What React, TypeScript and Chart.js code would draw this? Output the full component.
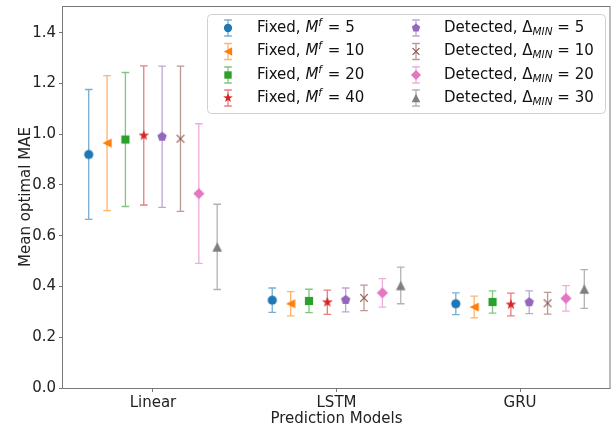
import React, { useEffect, useRef } from 'react';
import { Chart, registerables } from 'chart.js';
Chart.register(...registerables);

const categories = ['Linear', 'LSTM', 'GRU'];
const seriesOffsets = [-0.35, -0.25, -0.15, -0.05, 0.05, 0.15, 0.25, 0.35];
const yTicks = [0, 0.2, 0.4, 0.6, 0.8, 1.0, 1.2, 1.4];

const fixed5Mean = [0.92, 0.346, 0.332];
const fixed5Err = [0.256, 0.048, 0.043];
const fixed10Mean = [0.965, 0.332, 0.319];
const fixed10Err = [0.266, 0.048, 0.043];
const fixed20Mean = [0.979, 0.343, 0.339];
const fixed20Err = [0.264, 0.046, 0.044];
const fixed40Mean = [0.995, 0.338, 0.329];
const fixed40Err = [0.274, 0.048, 0.045];
const detected5Mean = [0.99, 0.347, 0.338];
const detected5Err = [0.278, 0.047, 0.045];
const detected10Mean = [0.982, 0.355, 0.334];
const detected10Err = [0.286, 0.05, 0.043];
const detected20Mean = [0.766, 0.375, 0.353];
const detected20Err = [0.275, 0.056, 0.05];
const detected30Mean = [0.556, 0.404, 0.39];
const detected30Err = [0.168, 0.072, 0.076];

const fixedParams = [5, 10, 20, 40];
const detectedParams = [5, 10, 20, 30];

const seriesMeans = [fixed5Mean, fixed10Mean, fixed20Mean, fixed40Mean, detected5Mean, detected10Mean, detected20Mean, detected30Mean];
const seriesErrs = [fixed5Err, fixed10Err, fixed20Err, fixed40Err, detected5Err, detected10Err, detected20Err, detected30Err];
const seriesColors = ['#1f77b4', '#ff7f0e', '#2ca02c', '#d62728', '#9467bd', '#8c564b', '#e377c2', '#7f7f7f'];
const seriesMarkers = ['circle', 'triLeft', 'square', 'star', 'pentagon', 'x', 'diamond', 'triUp'];

const FONT = '"DejaVu Sans", sans-serif';
const FS = 15;

function hexAlpha(hex: string, a: number) {
  const r = parseInt(hex.slice(1, 3), 16);
  const g = parseInt(hex.slice(3, 5), 16);
  const b = parseInt(hex.slice(5, 7), 16);
  return `rgba(${r},${g},${b},${a})`;
}

function drawMarker(ctx: CanvasRenderingContext2D, shape: string, color: string, cx: number, cy: number, s = 1) {
  ctx.save();
  ctx.fillStyle = color;
  ctx.strokeStyle = color;
  ctx.beginPath();
  if (shape === 'circle') {
    ctx.arc(cx, cy, 4.6 * s, 0, Math.PI * 2);
    ctx.fill();
  } else if (shape === 'triLeft') {
    const r = 4.6 * s;
    ctx.moveTo(cx - r, cy);
    ctx.lineTo(cx + r, cy - r);
    ctx.lineTo(cx + r, cy + r);
    ctx.closePath();
    ctx.fill();
  } else if (shape === 'square') {
    const r = 4.1 * s;
    ctx.rect(cx - r, cy - r, 2 * r, 2 * r);
    ctx.fill();
  } else if (shape === 'star') {
    const ro = 5.6 * s, ri = ro * 0.4;
    for (let k = 0; k < 10; k++) {
      const ang = -Math.PI / 2 + (k * Math.PI) / 5;
      const rr = k % 2 === 0 ? ro : ri;
      const px = cx + rr * Math.cos(ang), py = cy + rr * Math.sin(ang);
      if (k === 0) ctx.moveTo(px, py); else ctx.lineTo(px, py);
    }
    ctx.closePath();
    ctx.fill();
  } else if (shape === 'pentagon') {
    const r = 4.9 * s;
    for (let k = 0; k < 5; k++) {
      const ang = -Math.PI / 2 + (k * 2 * Math.PI) / 5;
      const px = cx + r * Math.cos(ang), py = cy + r * Math.sin(ang);
      if (k === 0) ctx.moveTo(px, py); else ctx.lineTo(px, py);
    }
    ctx.closePath();
    ctx.fill();
  } else if (shape === 'x') {
    const r = 3.8 * s;
    ctx.lineWidth = 1.2;
    ctx.moveTo(cx - r, cy - r);
    ctx.lineTo(cx + r, cy + r);
    ctx.moveTo(cx - r, cy + r);
    ctx.lineTo(cx + r, cy - r);
    ctx.stroke();
  } else if (shape === 'diamond') {
    const r = 5.6 * s;
    ctx.moveTo(cx, cy - r);
    ctx.lineTo(cx + r, cy);
    ctx.lineTo(cx, cy + r);
    ctx.lineTo(cx - r, cy);
    ctx.closePath();
    ctx.fill();
  } else if (shape === 'triUp') {
    const r = 4.8 * s;
    ctx.moveTo(cx, cy - r);
    ctx.lineTo(cx - r, cy + r);
    ctx.lineTo(cx + r, cy + r);
    ctx.closePath();
    ctx.fill();
  }
  ctx.restore();
}

function markerCanvas(shape: string, color: string) {
  const c = document.createElement('canvas');
  c.width = 16;
  c.height = 16;
  const ctx = c.getContext('2d')!;
  drawMarker(ctx, shape, color, 8, 8);
  return c;
}

function drawErrorBar(ctx: CanvasRenderingContext2D, color: string, px: number, top: number, bot: number, cap: number) {
  ctx.save();
  ctx.strokeStyle = hexAlpha(color, 0.6);
  ctx.lineWidth = 1.3;
  ctx.beginPath();
  ctx.moveTo(px, top);
  ctx.lineTo(px, bot);
  ctx.moveTo(px - cap, top);
  ctx.lineTo(px + cap, top);
  ctx.moveTo(px - cap, bot);
  ctx.lineTo(px + cap, bot);
  ctx.stroke();
  ctx.restore();
}

const errorBarPlugin = {
  id: 'errorBars',
  beforeDatasetsDraw(chart: any) {
    const { ctx } = chart;
    const xs = chart.scales.x, ys = chart.scales.y;
    chart.data.datasets.forEach((ds: any, di: number) => {
      ds.data.forEach((p: any, i: number) => {
        const px = xs.getPixelForValue(p.x);
        const top = ys.getPixelForValue(p.y + seriesErrs[di][i]);
        const bot = ys.getPixelForValue(p.y - seriesErrs[di][i]);
        drawErrorBar(ctx, seriesColors[di], px, top, bot, 3.8);
      });
    });
  },
};

const framePlugin = {
  id: 'frame',
  afterDatasetsDraw(chart: any) {
    const { ctx, chartArea: a } = chart;
    ctx.save();
    ctx.strokeStyle = '#777';
    ctx.lineWidth = 1;
    ctx.strokeRect(Math.round(a.left) - 0.5, Math.round(a.top) + 0.5, Math.round(a.right - a.left) + 0.5, Math.round(a.bottom - a.top));
    ctx.restore();
  },
};

function drawRichLabel(ctx: CanvasRenderingContext2D, x: number, y: number, di: number) {
  const main = `${FS}px ${FONT}`;
  const ital = `italic ${FS}px ${FONT}`;
  const small = `italic 10.5px ${FONT}`;
  ctx.textBaseline = 'middle';
  ctx.fillStyle = '#111';
  let cx = x;
  const seg = (t: string, f: string, dy = 0) => {
    ctx.font = f;
    ctx.fillText(t, cx, y + dy);
    cx += ctx.measureText(t).width;
  };
  if (di < 4) {
    seg('Fixed, ', main);
    seg('M', ital);
    seg('f', small, -5);
    cx += 1;
    seg(` = ${fixedParams[di]}`, main);
  } else {
    seg('Detected, Δ', main);
    seg('MIN', small, 4);
    seg(` = ${detectedParams[di - 4]}`, main);
  }
}

const legendPlugin = {
  id: 'customLegend',
  afterDraw(chart: any) {
    const { ctx } = chart;
    const bx = 207, by = 14, bw = 398, bh = 99;
    ctx.save();
    ctx.beginPath();
    if ((ctx as any).roundRect) (ctx as any).roundRect(bx + 0.5, by + 0.5, bw, bh, 4);
    else ctx.rect(bx + 0.5, by + 0.5, bw, bh);
    ctx.fillStyle = 'rgba(255,255,255,0.8)';
    ctx.fill();
    ctx.strokeStyle = '#d0d0d0';
    ctx.lineWidth = 1;
    ctx.stroke();
    const rowY = [28, 51.5, 75, 98];
    const colMarkerX = [228, 416];
    const colTextX = [257, 444];
    for (let di = 0; di < 8; di++) {
      const col = di < 4 ? 0 : 1;
      const row = di % 4;
      const mx = colMarkerX[col], my = rowY[row];
      drawErrorBar(ctx, seriesColors[di], mx, my - 8, my + 8, 3.8);
      drawMarker(ctx, seriesMarkers[di], seriesColors[di], mx, my, 0.9);
      drawRichLabel(ctx, colTextX[col], my, di);
    }
    ctx.restore();
  },
};

export default function App() {
  const ref = useRef<HTMLCanvasElement>(null);
  useEffect(() => {
    const datasets = seriesMeans.map((means, di) => ({
      label: `s${di}`,
      data: means.map((m, i) => ({ x: i + seriesOffsets[di], y: m })),
      pointStyle: markerCanvas(seriesMarkers[di], seriesColors[di]),
      pointRadius: 5,
      backgroundColor: seriesColors[di],
      borderColor: seriesColors[di],
      showLine: false,
    }));
    const chart = new Chart(ref.current!, {
      type: 'scatter',
      data: { datasets },
      plugins: [errorBarPlugin, framePlugin, legendPlugin],
      options: {
        animation: false,
        responsive: false,
        layout: { padding: { top: 5, right: 4, left: 0, bottom: 0 } },
        plugins: { legend: { display: false }, tooltip: { enabled: false } },
        scales: {
          x: {
            type: 'linear',
            min: -0.49,
            max: 2.49,
            afterBuildTicks: (s: any) => {
              s.ticks = categories.map((_, i) => ({ value: i }));
            },
            afterFit: (s: any) => {
              s.height = 40;
              s.paddingLeft = 0;
              s.paddingRight = 0;
            },
            ticks: {
              autoSkip: false,
              maxRotation: 0,
              padding: 2,
              color: '#222',
              font: { family: FONT, size: FS },
              callback: (v: any) => categories[Math.round(v)] ?? '',
            },
            grid: { display: true, drawOnChartArea: false, tickLength: 4, tickColor: '#777' },
            border: { display: false },
            title: {
              display: true,
              text: 'Prediction Models',
              color: '#222',
              font: { family: FONT, size: FS },
              padding: { top: 0, bottom: 0 },
            },
          },
          y: {
            type: 'linear',
            min: 0,
            max: 1.505,
            afterBuildTicks: (s: any) => {
              s.ticks = yTicks.map((v) => ({ value: v }));
            },
            afterFit: (s: any) => {
              s.width = 63;
              s.paddingTop = 0;
              s.paddingBottom = 0;
            },
            ticks: {
              padding: 3,
              color: '#222',
              font: { family: FONT, size: FS },
              callback: (v: any) => Number(v).toFixed(1),
            },
            grid: { display: true, drawOnChartArea: false, tickLength: 4, tickColor: '#777' },
            border: { display: false },
            title: {
              display: true,
              text: 'Mean optimal MAE',
              color: '#222',
              font: { family: FONT, size: FS },
              padding: { top: 17, bottom: 0 },
            },
          },
        },
      },
    } as any);
    return () => chart.destroy();
  }, []);
  return (
    <div style={{ position: 'absolute', left: 0, top: 0, width: 616, height: 428, background: '#fff' }}>
      <canvas ref={ref} width={616} height={428} />
    </div>
  );
}
